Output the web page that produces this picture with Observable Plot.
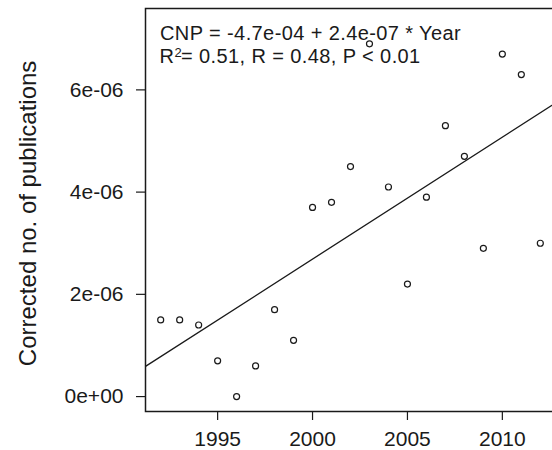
<!DOCTYPE html>
<html>
<head>
<meta charset="utf-8">
<script src="https://cdn.jsdelivr.net/npm/d3@7"></script>
<script src="https://cdn.jsdelivr.net/npm/@observablehq/plot@0.6"></script>
<style>
  html, body { margin: 0; padding: 0; background: #fff; overflow: hidden; }
  #chart svg { display: block; }
</style>
</head>
<body>
<div id="chart"></div>
<script>
// Data
const years = [1992, 1993, 1994, 1995, 1996, 1997, 1998, 1999, 2000, 2001, 2002,
               2003, 2004, 2005, 2006, 2007, 2008, 2009, 2010, 2011, 2012];
const cnp = [1.5e-6, 1.5e-6, 1.4e-6, 0.7e-6, 0.0e-6, 0.6e-6, 1.7e-6, 1.1e-6, 3.7e-6, 3.8e-6, 4.5e-6,
             6.9e-6, 4.1e-6, 2.2e-6, 3.9e-6, 5.3e-6, 4.7e-6, 2.9e-6, 6.7e-6, 6.3e-6, 3.0e-6];
const xTicks = [1995, 2000, 2005, 2010];
const yTicks = [0, 2e-6, 4e-6, 6e-6];
const yTickLabels = ["0e+00", "2e-06", "4e-06", "6e-06"];
const eqLine1 = "CNP = -4.7e-04 + 2.4e-07 * Year";
const eqLine2R = "R";
const eqLine2Sup = "2";
const eqLine2Rest = "= 0.51, R = 0.48, P < 0.01";
const yLabel = "Corrected no. of publications";

const points = years.map((y, i) => ({year: y, value: cnp[i]}));

// least-squares fit computed from the data
const mx = d3.mean(years), my = d3.mean(cnp);
const slope = d3.sum(years, (x, i) => (x - mx) * (cnp[i] - my)) / d3.sum(years, x => (x - mx) ** 2);
const intercept = my - slope * mx;

const xDomain = [1991.2, 2012.8];
const yDomain = [-0.292e-6, 7.592e-6];
const fitLine = xDomain.map(x => ({year: x, value: intercept + slope * x}));

const font = "'Liberation Sans', Arial, Helvetica, sans-serif";
const ink = "#1a1a1a";
const eq = {frameAnchor: "top-left", textAnchor: "start", lineAnchor: "top", fill: ink};

const chart = Plot.plot({
  width: 552,
  height: 450,
  marginLeft: 145,
  marginRight: -3,
  marginTop: 8,
  marginBottom: 39,
  style: {fontFamily: font, fontSize: "21px", color: ink, background: "#fff"},
  x: {domain: xDomain},
  y: {domain: yDomain},
  marks: [
    Plot.frame({stroke: ink, strokeWidth: 1.5}),
    Plot.axisX({ticks: xTicks, tickFormat: d => String(d), tickSize: 9, tickPadding: 11,
                fontSize: 21, label: null, stroke: ink, strokeWidth: 1.2}),
    Plot.axisY({ticks: yTicks, tickFormat: (d, i) => yTickLabels[yTicks.indexOf(d)],
                tickSize: 9, tickPadding: 13, fontSize: 21, stroke: ink, strokeWidth: 1.2, label: null}),
    Plot.text([yLabel], {text: d => d, frameAnchor: "left", rotate: -90, textAnchor: "middle",
                         lineAnchor: "top", dx: -126.5, dy: 3.4, fontSize: 24, fill: ink}),
    Plot.line(fitLine, {x: "year", y: "value", stroke: ink, strokeWidth: 1.3, clip: true}),
    Plot.dot(points, {x: "year", y: "value", r: 3, stroke: ink, strokeWidth: 1.2, fill: "none"}),
    Plot.text([eqLine1], {...eq, text: d => d, dx: 14.5, dy: 17.7, fontSize: 20}),
    Plot.text([eqLine2R], {...eq, text: d => d, dx: 14, dy: 40.3, fontSize: 20}),
    Plot.text([eqLine2Sup], {...eq, text: d => d, dx: 29, dy: 39, fontSize: 13}),
    Plot.text([eqLine2Rest], {...eq, text: d => d, dx: 35.5, dy: 40.3, fontSize: 20})
  ]
});
// slightly wider tracking on the equation lines, as in the reference
d3.select(chart).selectAll("text")
  .filter(function() { return this.textContent === eqLine1 || this.textContent === eqLine2Rest; })
  .style("letter-spacing", "0.4px");
document.getElementById("chart").appendChild(chart);
</script>
</body>
</html>
